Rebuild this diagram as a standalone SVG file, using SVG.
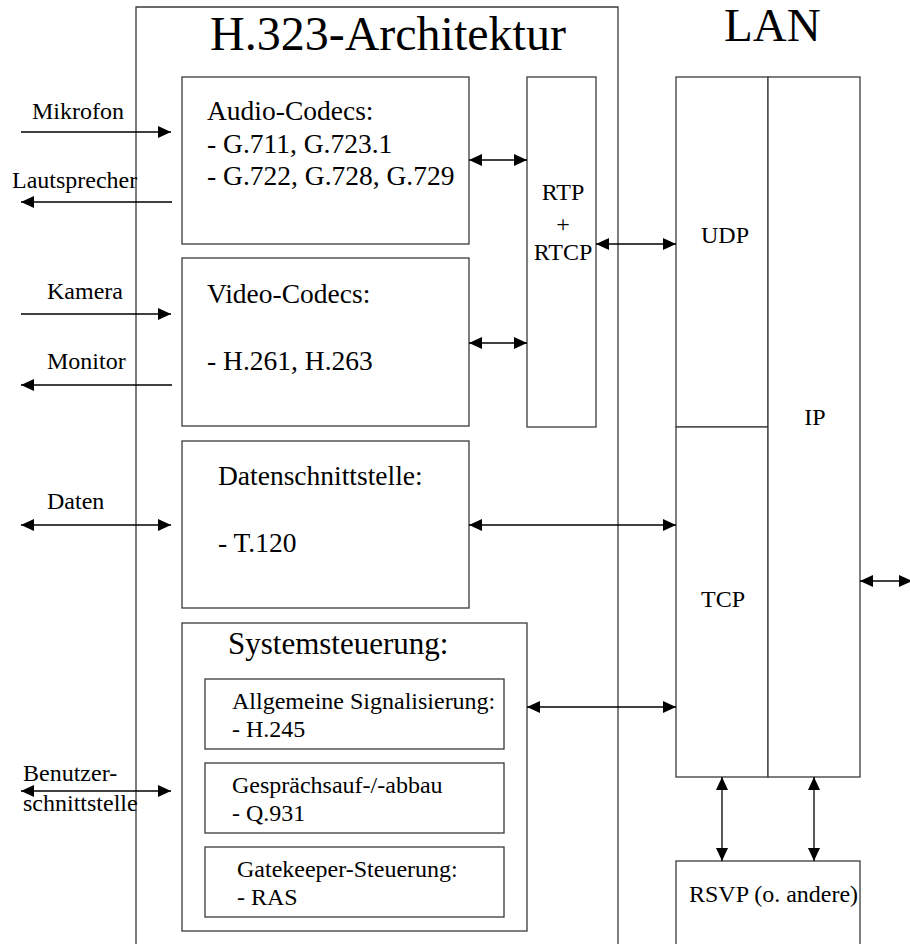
<svg xmlns="http://www.w3.org/2000/svg" width="910" height="944" viewBox="0 0 910 944" font-family="'Liberation Serif', serif">
  <style>
    text { font-family: 'Liberation Serif', serif; fill: #000; }
    .box { fill: #fff; stroke: #3a3a3a; stroke-width: 1.3; }
    .line { fill: none; stroke: #3a3a3a; stroke-width: 1.3; }
    .conn { fill: none; stroke: #000; stroke-width: 1.3; }
    .title { font-size: 48px; }
    .lan { font-size: 47px; }
    .big { font-size: 27.5px; }
    .sys { font-size: 31px; }
    .lbl { font-size: 24px; }
  </style>
  <defs>
    <marker id="ah" markerUnits="userSpaceOnUse" markerWidth="14" markerHeight="13" refX="13" refY="6" orient="auto-start-reverse">
      <path d="M0,0 L13,6 L0,12 z" fill="#000"/>
    </marker>
  </defs>

  <rect width="910" height="944" fill="#fff"/>

  <!-- H.323 architecture frame (open at the bottom) -->
  <g id="h323-frame">
    <path class="line" d="M136,950 V7 H618 V950"/>
    <text class="title" x="210" y="50">H.323-Architektur</text>
  </g>

  <g id="audio-codecs">
    <rect class="box" x="182" y="77" width="287" height="167"/>
    <text class="big" x="207" y="120">Audio-Codecs:</text>
    <text class="big" x="207" y="153">- G.711, G.723.1</text>
    <text class="big" x="207" y="185">- G.722, G.728, G.729</text>
  </g>

  <g id="video-codecs">
    <rect class="box" x="182" y="258" width="287" height="168"/>
    <text class="big" x="207" y="303">Video-Codecs:</text>
    <text class="big" x="207" y="370">- H.261, H.263</text>
  </g>

  <g id="datenschnittstelle">
    <rect class="box" x="182" y="441" width="287" height="167"/>
    <text class="big" x="218" y="485">Datenschnittstelle:</text>
    <text class="big" x="218" y="552">- T.120</text>
  </g>

  <g id="systemsteuerung">
    <rect class="box" x="182" y="623" width="345" height="308"/>
    <text class="sys" x="228" y="654">Systemsteuerung:</text>
  </g>

  <g id="signalisierung">
    <rect class="box" x="205" y="679" width="299" height="70"/>
    <text class="lbl" x="232" y="709">Allgemeine Signalisierung:</text>
    <text class="lbl" x="232" y="737">- H.245</text>
  </g>

  <g id="gespraechsaufbau">
    <rect class="box" x="205" y="763" width="299" height="70"/>
    <text class="lbl" x="232" y="793">Gesprächsauf-/-abbau</text>
    <text class="lbl" x="232" y="821">- Q.931</text>
  </g>

  <g id="gatekeeper">
    <rect class="box" x="205" y="847" width="299" height="70"/>
    <text class="lbl" x="237" y="877">Gatekeeper-Steuerung:</text>
    <text class="lbl" x="237" y="905">- RAS</text>
  </g>

  <g id="rtp-rtcp">
    <rect class="box" x="527" y="77" width="69" height="350"/>
    <text class="lbl" x="563" y="200" text-anchor="middle">RTP</text>
    <text class="lbl" x="563" y="232" text-anchor="middle">+</text>
    <text class="lbl" x="563" y="260" text-anchor="middle">RTCP</text>
  </g>

  <!-- LAN protocol stack -->
  <g id="lan">
    <text class="lan" x="724" y="41">LAN</text>
  </g>

  <g id="udp">
    <rect class="box" x="676" y="77" width="92" height="350"/>
    <text class="lbl" x="725" y="243" text-anchor="middle">UDP</text>
  </g>

  <g id="tcp">
    <rect class="box" x="676" y="427" width="92" height="350"/>
    <text class="lbl" x="723" y="607" text-anchor="middle">TCP</text>
  </g>

  <g id="ip">
    <rect class="box" x="768" y="77" width="92" height="700"/>
    <text class="lbl" x="815" y="425" text-anchor="middle">IP</text>
  </g>

  <g id="rsvp">
    <rect class="box" x="676" y="861" width="184" height="100"/>
    <text class="lbl" x="689" y="902">RSVP (o. andere)</text>
  </g>

  <!-- external interfaces -->
  <g id="labels">
    <text class="lbl" x="32" y="119">Mikrofon</text>
    <text class="lbl" x="12" y="188">Lautsprecher</text>
    <text class="lbl" x="47" y="299">Kamera</text>
    <text class="lbl" x="47" y="369">Monitor</text>
    <text class="lbl" x="47" y="509">Daten</text>
    <text class="lbl" x="23" y="781">Benutzer-</text>
    <text class="lbl" x="23" y="811">schnittstelle</text>
  </g>

  <g id="connectors">
    <line class="conn" x1="21" y1="132" x2="171" y2="132" marker-end="url(#ah)"/>
    <line class="conn" x1="172" y1="202" x2="21" y2="202" marker-end="url(#ah)"/>
    <line class="conn" x1="21" y1="314" x2="171" y2="314" marker-end="url(#ah)"/>
    <line class="conn" x1="172" y1="385" x2="21" y2="385" marker-end="url(#ah)"/>
    <line class="conn" x1="21" y1="525" x2="171" y2="525" marker-start="url(#ah)" marker-end="url(#ah)"/>
    <line class="conn" x1="21" y1="791" x2="171" y2="791" marker-start="url(#ah)" marker-end="url(#ah)"/>

    <line class="conn" x1="469" y1="160" x2="527" y2="160" marker-start="url(#ah)" marker-end="url(#ah)"/>
    <line class="conn" x1="469" y1="343" x2="527" y2="343" marker-start="url(#ah)" marker-end="url(#ah)"/>
    <line class="conn" x1="596" y1="244" x2="676" y2="244" marker-start="url(#ah)" marker-end="url(#ah)"/>
    <line class="conn" x1="469" y1="525" x2="676" y2="525" marker-start="url(#ah)" marker-end="url(#ah)"/>
    <line class="conn" x1="527" y1="707" x2="676" y2="707" marker-start="url(#ah)" marker-end="url(#ah)"/>
    <line class="conn" x1="860" y1="581" x2="912" y2="581" marker-start="url(#ah)" marker-end="url(#ah)"/>

    <line class="conn" x1="722" y1="777" x2="722" y2="861" marker-start="url(#ah)" marker-end="url(#ah)"/>
    <line class="conn" x1="814" y1="777" x2="814" y2="861" marker-start="url(#ah)" marker-end="url(#ah)"/>
  </g>
</svg>
